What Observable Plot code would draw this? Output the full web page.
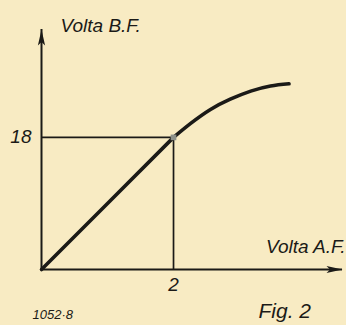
<!DOCTYPE html>
<html>
<head>
<meta charset="utf-8">
<script src="https://cdn.jsdelivr.net/npm/d3@7"></script>
<script src="https://cdn.jsdelivr.net/npm/@observablehq/plot@0.6"></script>
<style>
  html, body { margin: 0; padding: 0; background: #f8ebc3; }
  #chart svg { display: block; }
</style>
</head>
<body>
<div id="chart"></div>
<script>
// Data
const xLabel = "Volta A.F.";
const yLabel = "Volta B.F.";
const figNumber = "1052·8";
const figTitle = "Fig. 2";
const curveX = [0, 1, 2, 2.26, 2.56, 2.86, 3.17, 3.47, 3.75];
const curveY = [0, 9, 18, 19.9, 21.8, 23.2, 24.3, 25.0, 25.3];
const markX = [2];
const markY = [18];
const xTicks = [2];
const yTicks = [18];
const xMax = 4.56;
const yMax = 32.7;

const curve = curveX.map((x, i) => ({x, y: curveY[i]}));
const marker = markX.map((x, i) => ({x, y: markY[i]}));
const kneeX = markX[0];
const straightPart = curve.filter(d => d.x <= kneeX);
const bentPart = curve.filter(d => d.x >= kneeX);

const ink = "#1b1a17";
const font = "Liberation Sans";

// narrow filled arrowhead with its tip at the origin, pointing up
const arrowHead = {
  draw(context) {
    context.moveTo(0, 0);
    context.lineTo(3.6, 16);
    context.lineTo(0, 12.5);
    context.lineTo(-3.6, 16);
    context.closePath();
  }
};

const chart = Plot.plot({
  width: 346,
  height: 325,
  marginLeft: 41,
  marginRight: 4,
  marginTop: 29,
  marginBottom: 56,
  style: {background: "#f8ebc3", fontFamily: font, fontStyle: "italic", color: ink},
  x: {domain: [0, xMax]},
  y: {domain: [0, yMax]},
  marks: [
    // guide lines to the marked point
    Plot.ruleY(marker, {y: "y", x1: 0, x2: "x", stroke: ink, strokeWidth: 1.6}),
    Plot.ruleX(marker, {x: "x", y1: 0, y2: "y", stroke: ink, strokeWidth: 1.7}),
    // axes
    Plot.ruleX([0], {stroke: ink, strokeWidth: 2}),
    Plot.ruleY([0], {stroke: ink, strokeWidth: 2}),
    Plot.dot([{x: 0, y: yMax}], {x: "x", y: "y", symbol: arrowHead, fill: ink, stroke: "none"}),
    Plot.dot([{x: xMax, y: 0}], {x: "x", y: "y", symbol: arrowHead, rotate: 90, fill: ink, stroke: "none"}),
    Plot.axisY({ticks: yTicks, tickFormat: d => String(d), tickSize: 0, tickPadding: 10, fontSize: 19, label: null, fill: ink}),
    Plot.axisX({ticks: xTicks, tickFormat: d => String(d), tickSize: 0, tickPadding: 8, fontSize: 19, label: null, fill: ink}),
    // curve: straight rise, then saturating bend
    Plot.line(straightPart, {x: "x", y: "y", curve: "linear", stroke: ink, strokeWidth: 3.6, strokeLinecap: "round"}),
    Plot.line(bentPart, {x: "x", y: "y", curve: "natural", stroke: ink, strokeWidth: 3.6, strokeLinecap: "round"}),
    Plot.dot(marker, {x: "x", y: "y", symbol: "square", r: 3.2, fill: "#8d918a", stroke: "none"}),
    // labels
    Plot.text([yLabel], {frameAnchor: "top-left", dx: 19, dy: 2, lineAnchor: "bottom", textAnchor: "start", fontSize: 19, fill: ink}),
    Plot.text([xLabel], {frameAnchor: "bottom-right", dx: 3, dy: -17, lineAnchor: "bottom", textAnchor: "end", fontSize: 19, fill: ink}),
    Plot.text([figNumber], {frameAnchor: "bottom-left", dx: -9, dy: 49, lineAnchor: "bottom", textAnchor: "start", fontSize: 13, fill: ink}),
    Plot.text([figTitle], {frameAnchor: "bottom-right", dx: -84, dy: 48, lineAnchor: "bottom", textAnchor: "start", fontSize: 21, fill: ink})
  ]
});
document.getElementById("chart").append(chart);
</script>
</body>
</html>
